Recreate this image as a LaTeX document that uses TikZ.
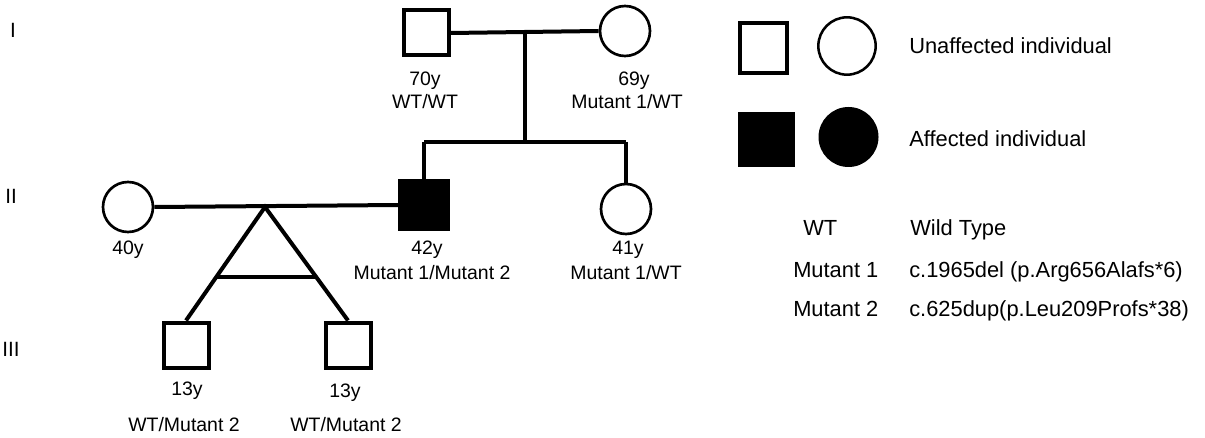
\documentclass[tikz,border=0pt]{standalone}
\usepackage{fontspec}
\setmainfont{Liberation Sans}
\usetikzlibrary{calc}
\begin{document}
\begin{tikzpicture}[x=0.75pt,y=-0.75pt,
  pedline/.style={line width=3pt},
  male/.style={draw, line width=3pt, fill=white, rectangle, minimum size=33.75pt, inner sep=0pt},
  malefill/.style={draw, line width=1pt, fill=black, rectangle, minimum size=37.5pt, inner sep=0pt},
  female/.style={draw, line width=2pt, fill=white, circle, minimum size=37.5pt, inner sep=0pt},
  pedtxt/.style={font=\fontsize{14.6pt}{17pt}\selectfont, inner sep=0pt, anchor=base},
  legtxt/.style={font=\fontsize{16.4pt}{19pt}\selectfont, inner sep=0pt, anchor=base west},
  gentxt/.style={font=\fontsize{15.5pt}{18pt}\selectfont, inner sep=0pt, anchor=base}
]
\useasboundingbox (0,0) rectangle (1205,438);

% generation labels
\node[gentxt] (gI) at (13,38) {I};
\node[gentxt] (gII) at (11,204) {II};
\node[gentxt] (gIII) at (11,356) {III};

% generation I
\node[male] (i1) at (426,33) {};
\node[female] (i2) at (625,31) {};
\coordinate (m1) at (525,33);
\coordinate (s1) at (525,142);
\coordinate (s1l) at (424,142);
\coordinate (s1r) at (626,142);

% generation II
\node[female] (ii1) at (128,207) {};
\node[malefill] (ii3) at (424,205) {};
\node[female] (ii4) at (626,209) {};
\coordinate (apex) at (265,207);

% generation III
\node[male] (iii1) at (186,345) {};
\node[male] (iii2) at (348,345) {};

% connectors
\draw[pedline] (i1.east) -- (i2.west);
\draw[pedline] (m1) -- (s1);
\draw[pedline] (s1l) -- (s1r);
\draw[pedline] (s1l) -- (ii3.north);
\draw[pedline] (s1r) -- (ii4.north);
\draw[pedline] (ii1.east) -- (ii3.west);
\draw[pedline] (iii1.north) -- (apex) -- (iii2.north);
\draw[pedline] ($(apex)!0.614!(iii1.north)$) -- ($(apex)!0.614!(iii2.north)$);

% labels
\node[pedtxt] (l70) at (425,86) {70y};
\node[pedtxt] (lwtwt) at (425,109) {WT/WT};
\node[pedtxt] (l69) at (634,86) {69y};
\node[pedtxt] (l69g) at (627,109) {Mutant 1/WT};
\node[pedtxt] (l40) at (128,254) {40y};
\node[pedtxt] (l42) at (427,254) {42y};
\node[pedtxt] (l42g) at (432,279) {Mutant 1/Mutant 2};
\node[pedtxt] (l41) at (628,254) {41y};
\node[pedtxt] (l41g) at (626,279) {Mutant 1/WT};
\node[pedtxt] (l13a) at (187,395) {13y};
\node[pedtxt] (l13b) at (345,397) {13y};
\node[pedtxt] (l13ag) at (184,431) {WT/Mutant 2};
\node[pedtxt] (l13bg) at (346,431) {WT/Mutant 2};

% legend
\node[draw, line width=3pt, rectangle, minimum width=35.25pt, minimum height=37.5pt, inner sep=0pt] (lgsq) at (763.5,48.5) {};
\node[draw, line width=1.9pt, circle, minimum size=43pt, inner sep=0pt] (lgci) at (847,46) {};
\node[fill=black, rectangle, minimum width=42.75pt, minimum height=41.25pt, inner sep=0pt] (lgsqf) at (766.5,139.5) {};
\node[fill=black, circle, minimum size=45pt, inner sep=0pt] (lgcif) at (848.5,137) {};
\node[legtxt] (lu) at (909,54) {Unaffected individual};
\node[legtxt] (la) at (909,147) {Affected individual};
\node[legtxt] (kwt) at (803,235) {WT};
\node[legtxt] (vwt) at (910,235) {Wild Type};
\node[legtxt] (km1) at (793,277) {Mutant 1};
\node[legtxt] (vm1) at (909,277) {c.1965del (p.Arg656Alafs*6)};
\node[legtxt] (km2) at (793,316) {Mutant 2};
\node[legtxt] (vm2) at (909,316) {c.625dup(p.Leu209Profs*38)};
\end{tikzpicture}
\end{document}
